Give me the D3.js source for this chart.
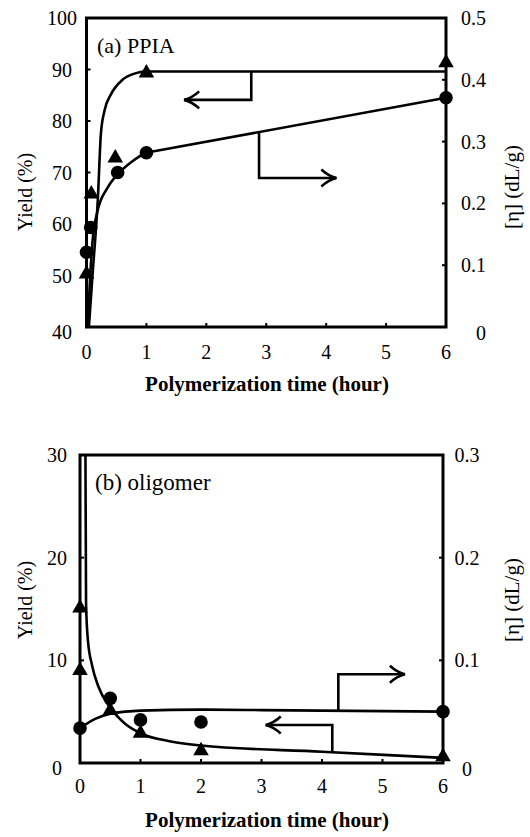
<!DOCTYPE html>
<html><head><meta charset="utf-8">
<script src="https://cdn.jsdelivr.net/npm/d3@7/dist/d3.min.js"></script>
<style>
html,body{margin:0;padding:0;background:#fff;}
svg{display:block;}
</style></head>
<body>
<svg id="chart" width="530" height="837"></svg>
<script>
// ---------- DATA ----------
const xTicks = [0,1,2,3,4,5,6];

// Panel (a) PPIA
const aYieldTicks = [40,50,60,70,80,90,100];
const aEtaTicks = [0,0.1,0.2,0.3,0.4,0.5];
const aYieldPts = [[0,50.5],[0.08,66],[0.48,73],[1,89.5],[6,91.5]];        // triangles
const aEtaPts = [[0,0.121],[0.07,0.161],[0.52,0.25],[1,0.282],[6,0.371]];   // circles
const aYieldCurve = [[0.04,40],[0.1,50],[0.19,65],[0.24,77.5],[0.3,82],[0.4,85],[0.6,88],[0.8,89.2],[1,89.6],[1.2,89.6],[6,89.6]];
const aEtaCurve = [[0.02,0],[0.06,0.08],[0.1,0.138],[0.18,0.186],[0.35,0.225],[0.55,0.25],[0.75,0.267],[1,0.282],[1.15,0.2847],[6,0.371]];
// arrows: [t, value] polyline, axis side
const aArrowLeft = [[2.75,89.6],[2.75,84.1],[1.63,84.1]];      // yield axis
const aArrowRight = [[2.88,0.316],[2.88,0.241],[4.17,0.241]];  // eta axis

// Panel (b) oligomer
const bYieldTicks = [0,10,20,30];
const bEtaTicks = [0,0.1,0.2,0.3];
const bYieldPts = [[0,15.2],[0,9.1],[0.5,5.2],[1,3.0],[2,1.3],[6,0.7]];     // triangles
const bEtaPts = [[0,0.034],[0.5,0.063],[1,0.042],[2,0.04],[6,0.05]];         // circles
const bYieldCurve = [[0.09,30],[0.1,15.5],[0.13,12],[0.2,9.5],[0.3,7.5],[0.5,5.4],[0.75,3.8],[1,2.9],[1.5,2.1],[2,1.7],[4,1.1],[6,0.5]];
const bEtaCurve = [[0,0.034],[0.25,0.043],[0.5,0.048],[0.75,0.05],[1,0.051],[2,0.052],[3,0.0515],[6,0.05]];
const bArrowRight = [[4.27,0.051],[4.27,0.0865],[5.37,0.0865]]; // eta axis
const bArrowLeft = [[4.17,1.15],[4.17,3.7],[3.07,3.7]];        // yield axis

const xTitle = "Polymerization time (hour)";
const yTitle = "Yield (%)";
const y2Title = "[η] (dL/g)";

const FONT = "'Liberation Serif', Tinos, 'Times New Roman', 'DejaVu Serif', serif";

// ---------- DRAW ----------
const svg = d3.select("#chart");

function drawPanel(o){
  const g = svg.append("g").attr("font-family", FONT);
  const x = d3.scaleLinear().domain([0,6]).range([o.left,o.right]);
  const yL = d3.scaleLinear().domain(o.yDomain).range([o.bottom,o.top]);
  const yR = d3.scaleLinear().domain(o.etaDomain).range([o.bottom,o.top]);

  // inward ticks
  const tk = g.append("g").attr("stroke","#000").attr("stroke-width",2);
  o.yTicks.forEach(v=>{ tk.append("line").attr("x1",o.left).attr("x2",o.left+4).attr("y1",yL(v)).attr("y2",yL(v)); });
  o.etaTicks.forEach(v=>{ tk.append("line").attr("x1",o.right).attr("x2",o.right-4).attr("y1",yR(v)).attr("y2",yR(v)); });
  xTicks.forEach(v=>{ tk.append("line").attr("x1",x(v)).attr("x2",x(v)).attr("y1",o.bottom).attr("y2",o.bottom-4); });

  // frame
  g.append("rect").attr("x",o.left).attr("y",o.top).attr("width",o.right-o.left).attr("height",o.bottom-o.top)
    .attr("fill","none").attr("stroke","#000").attr("stroke-width",3);

  // curves
  const lineL = d3.line().x(d=>x(d[0])).y(d=>yL(d[1])).curve(d3.curveMonotoneX);
  const lineR = d3.line().x(d=>x(d[0])).y(d=>yR(d[1])).curve(d3.curveMonotoneX);
  g.append("path").datum(o.yCurve).attr("d",lineL).attr("fill","none").attr("stroke","#000").attr("stroke-width",2.6);
  g.append("path").datum(o.etaCurve).attr("d",lineR).attr("fill","none").attr("stroke","#000").attr("stroke-width",2.6);

  // arrows
  function arrow(pts, ys){
    const p = d3.line().x(d=>x(d[0])).y(d=>ys(d[1]));
    g.append("path").datum(pts).attr("d",p).attr("fill","none").attr("stroke","#000").attr("stroke-width",2.6);
    const a = pts[pts.length-1], b = pts[pts.length-2];
    const tx=x(a[0]), ty=ys(a[1]), dir = Math.sign(x(a[0])-x(b[0]));
    g.append("path").attr("d",`M${tx-dir*15},${ty-8.5} Q${tx-dir*8},${ty-2} ${tx},${ty} Q${tx-dir*8},${ty+2} ${tx-dir*15},${ty+8.5}`)
      .attr("fill","none").attr("stroke","#000").attr("stroke-width",2.6);
  }
  arrow(o.arrowY, yL);
  arrow(o.arrowEta, yR);

  // markers
  g.append("g").selectAll("path").data(o.yPts).join("path")
    .attr("d", d3.symbol().type(d3.symbolTriangle).size(105))
    .attr("transform", d=>`translate(${x(d[0])},${yL(d[1])+1})`).attr("fill","#000");
  g.append("g").selectAll("circle").data(o.etaPts).join("circle")
    .attr("cx",d=>x(d[0])).attr("cy",d=>yR(d[1])).attr("r",6.8).attr("fill","#000");

  // tick labels
  g.append("g").selectAll("text").data(o.yTicks).join("text")
    .attr("x",o.yLabX).attr("y",d=>yL(d)+(d===o.yDomain[0]?5:0)).attr("dy","0.35em")
    .attr("text-anchor","middle").attr("font-size",20).text(d=>d);
  g.append("g").selectAll("text").data(o.etaTicks).join("text")
    .attr("x",o.etaLabX).attr("y",d=>yR(d)+(d===0?6:0)).attr("dy","0.35em")
    .attr("text-anchor",o.etaAnchor).attr("font-size",20).text(d=>d);
  g.append("g").selectAll("text").data(xTicks).join("text")
    .attr("x",d=>x(d)).attr("y",o.xLabY).attr("dy","0.35em")
    .attr("text-anchor","middle").attr("font-size",20).text(d=>d);

  // titles
  g.append("text").attr("x",267).attr("y",o.xTitleY).attr("dy","0.35em").attr("text-anchor","middle")
    .attr("font-size",21).attr("font-weight","bold").text(xTitle);
  g.append("text").attr("transform",`translate(25,${o.yTitleY}) rotate(-90)`).attr("dy","0.35em")
    .attr("text-anchor","middle").attr("font-size",20).text(yTitle);
  g.append("text").attr("transform",`translate(512,${o.y2TitleY}) rotate(-90)`).attr("dy","0.35em")
    .attr("text-anchor","middle").attr("font-size",21).text(y2Title);
  g.append("text").attr("x",o.labelX).attr("y",o.labelY).attr("font-size",o.labelSize).text(o.label);
}

drawPanel({
  left:86.5, right:446, top:18, bottom:327,
  yDomain:[40,100], etaDomain:[0,0.5], yTicks:aYieldTicks, etaTicks:aEtaTicks,
  yPts:aYieldPts, etaPts:aEtaPts, yCurve:aYieldCurve, etaCurve:aEtaCurve,
  arrowY:aArrowLeft, arrowEta:aArrowRight,
  yLabX:62, etaLabX:486, etaAnchor:"end", xLabY:352, xTitleY:384, yTitleY:192, y2TitleY:187,
  label:"(a) PPIA", labelX:97, labelY:53, labelSize:22
});
drawPanel({
  left:80, right:443, top:455, bottom:763,
  yDomain:[0,30], etaDomain:[0,0.3], yTicks:bYieldTicks, etaTicks:bEtaTicks,
  yPts:bYieldPts, etaPts:bEtaPts, yCurve:bYieldCurve, etaCurve:bEtaCurve,
  arrowY:bArrowLeft, arrowEta:bArrowRight,
  yLabX:57, etaLabX:467, etaAnchor:"middle", xLabY:786, xTitleY:820, yTitleY:600, y2TitleY:600,
  label:"(b) oligomer", labelX:95, labelY:490, labelSize:23
});
</script>
</body></html>
